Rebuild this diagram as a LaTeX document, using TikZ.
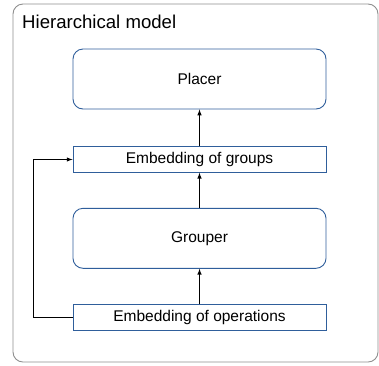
\documentclass[tikz,border=0pt]{standalone}
\usepackage{fontspec}
\setmainfont{Liberation Sans}
\usetikzlibrary{arrows}

\definecolor{boxblue}{HTML}{2F5E9B}
\definecolor{framegray}{HTML}{8E8E8E}

\begin{document}
\begin{tikzpicture}[x=1pt,y=-1pt,>=latex]
    \tikzstyle{every node}=[font=\fontsize{15.5}{18}\selectfont]
    \tikzstyle{block}=[draw=boxblue,line width=0.9pt,minimum width=253pt,inner sep=0pt]
    \tikzstyle{net}=[block,rounded corners=10pt,minimum height=60pt]
    \tikzstyle{embed}=[block,minimum height=25.5pt]
    \tikzstyle{link}=[->,line width=1pt]
    \useasboundingbox (0,0) rectangle (379,365);
    % outer frame and its title
    \node[draw=framegray,line width=0.9pt,rounded corners=10pt,minimum width=365pt,minimum height=358pt,inner sep=0pt] (frame) at (195.5,183) {};
    \node[anchor=base west,inner sep=0pt,font=\fontsize{18.6}{22}\selectfont] (title) at (22,28.3) {Hierarchical model};
    % the two networks and their inputs
    \node[net] (placer) at (199.5,79) {Placer};
    \node[embed] (groups) at (199.5,159.5) {Embedding of groups};
    \node[net] (grouper) at (199.5,238.3) {Grouper};
    \node[embed] (ops) at (199.5,317.5) {Embedding of operations};
    \coordinate (loop) at (33.3,317.5);
    \draw[link] (groups) -- (placer);
    \draw[link] (grouper) -- (groups);
    \draw[link] (ops) -- (grouper);
    \draw[link] (ops.west) -- (loop) |- (groups.west);
\end{tikzpicture}
\end{document}
